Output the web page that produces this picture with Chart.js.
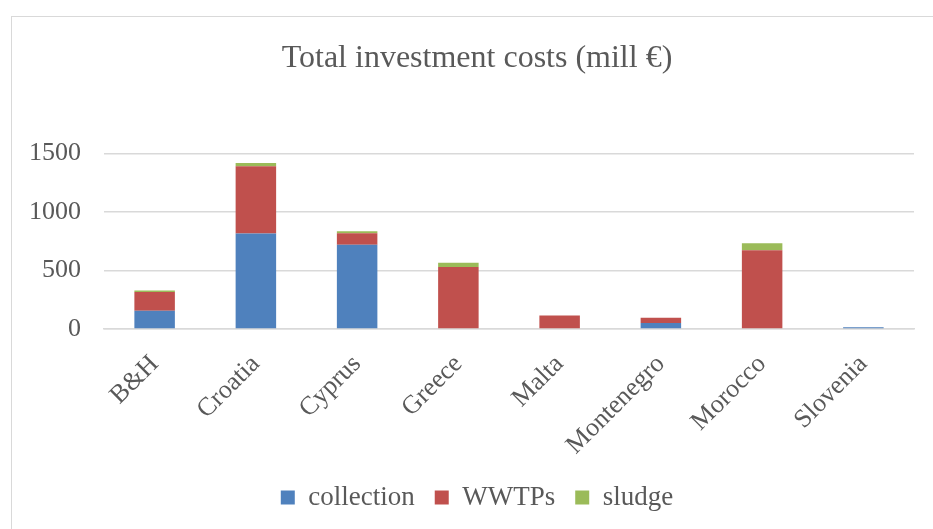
<!DOCTYPE html>
<html>
<head>
<meta charset="utf-8">
<script src="https://cdn.jsdelivr.net/npm/chart.js@4.4.1/dist/chart.umd.min.js"></script>
<style>
html,body{margin:0;padding:0;background:#fff;}
#wrap{width:933px;height:529px;position:relative;}
</style>
</head>
<body>
<div id="wrap"><canvas id="c" width="933" height="529"></canvas></div>
<script>
const categories = ["B&H","Croatia","Cyprus","Greece","Malta","Montenegro","Morocco","Slovenia"];
const collection = [155, 815, 719, 0, 0, 51, 0, 15];
const wwtps      = [162, 575, 99, 529, 116, 45, 673, 0];
const sludge     = [11, 28, 17, 37, 0, 0, 60, 0];
const yTicks = [0, 500, 1000, 1500];

const textColor = '#595959';
const fontFam = '"Liberation Serif", "Times New Roman", serif';

const borderPlugin = {
  id: 'outerBorder',
  afterLayout(chart) {
    // centre title and legend on the outer frame rather than the canvas
    if (chart.titleBlock) chart.titleBlock.left = 40;
    if (chart.legend) chart.legend.left = 40;
  },
  beforeDraw(chart) {
    const ctx = chart.ctx;
    ctx.save();
    ctx.fillStyle = '#fff';
    ctx.fillRect(0, 0, chart.width, chart.height);
    ctx.strokeStyle = '#D9D9D9';
    ctx.lineWidth = 1;
    ctx.strokeRect(11.5, 16.5, 1000, 1000);
    ctx.restore();
  }
};

new Chart(document.getElementById('c'), {
  type: 'bar',
  data: {
    labels: categories,
    datasets: [
      {label: 'collection', data: collection, backgroundColor: '#4F81BD'},
      {label: 'WWTPs', data: wwtps, backgroundColor: '#C0504D'},
      {label: 'sludge', data: sludge, backgroundColor: '#9BBB59'}
    ]
  },
  plugins: [borderPlugin],
  options: {
    responsive: false,
    animation: false,
    devicePixelRatio: 1,
    layout: {padding: {top: 0, right: 19, bottom: 8, left: 0}},
    datasets: {bar: {barPercentage: 0.4, categoryPercentage: 1.0}},
    plugins: {
      title: {
        display: true,
        text: 'Total investment costs (mill €)',
        color: textColor,
        font: {family: fontFam, size: 32, weight: 'normal'},
        padding: {top: 39, bottom: 76}
      },
      legend: {
        position: 'bottom',
        labels: {
          color: textColor,
          font: {family: fontFam, size: 27},
          boxWidth: 14,
          boxHeight: 14,
          padding: 20
        }
      },
      tooltip: {enabled: false}
    },
    scales: {
      x: {
        stacked: true,
        grid: {display: false, drawTicks: false},
        border: {display: true, color: '#D9D9D9', width: 1.5},
        ticks: {
          color: textColor,
          font: {family: fontFam, size: 26},
          maxRotation: 45,
          minRotation: 45,
          padding: 20,
          autoSkip: false
        },
        afterFit(scale) { scale.height = 135; }
      },
      y: {
        stacked: true,
        min: 0,
        max: 1500,
        afterBuildTicks(scale) { scale.ticks = yTicks.map(v => ({value: v})); },
        grid: {color: '#D9D9D9', lineWidth: 1.5, drawTicks: false},
        border: {display: false},
        ticks: {
          color: textColor,
          font: {family: fontFam, size: 26},
          padding: 23,
          callback: (v) => String(v)
        },
        afterFit(scale) { scale.width = 104; }
      }
    }
  }
});
</script>
</body>
</html>
